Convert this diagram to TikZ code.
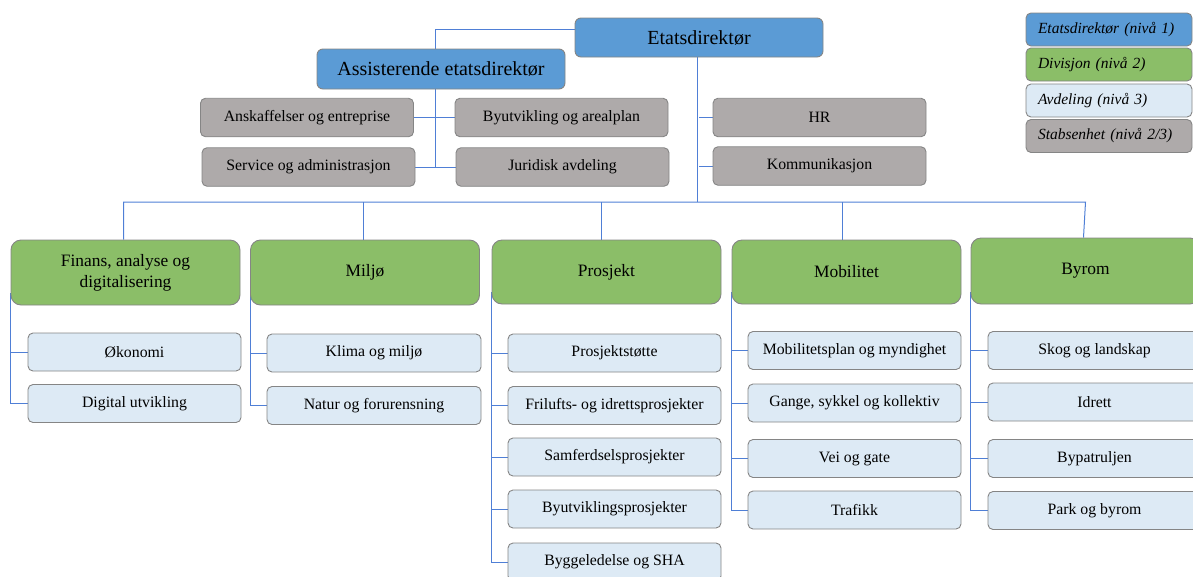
\documentclass[tikz,border=0pt]{standalone}
\usepackage{fontspec}
\setmainfont{Liberation Serif}
\usetikzlibrary{calc,backgrounds}

\definecolor{edblue}{HTML}{5B9BD5}
\definecolor{divgreen}{HTML}{8BBE68}
\definecolor{avdblue}{HTML}{DDEAF5}
\definecolor{stabgray}{HTML}{AEAAAA}
\definecolor{edge}{HTML}{858585}
\definecolor{linkblue}{HTML}{4F7FD6}

\tikzset{
  box/.style={draw=edge, line width=0.9pt, inner sep=0pt, align=center, text=black},
  lvlone/.style={box, fill=edblue, rounded corners=6pt, minimum width=248pt, minimum height=39pt,
                 font=\fontsize{20}{22}\selectfont},
  stab/.style={box, fill=stabgray, rounded corners=5pt, minimum width=213pt, minimum height=38.5pt,
               font=\fontsize{15.8}{18}\selectfont},
  divbox/.style={box, fill=divgreen, rounded corners=10pt, minimum width=229pt, minimum height=65pt,
                 font=\fontsize{17.4}{21}\selectfont},
  avd/.style={box, fill=avdblue, rounded corners=5pt, minimum width=213pt, minimum height=38pt,
              font=\fontsize{15.8}{18}\selectfont},
  legbox/.style={box, rounded corners=5pt, minimum width=166pt, minimum height=33pt,
                 text width=142pt, align=left, font=\fontsize{15.5}{18}\selectfont\itshape},
  conn/.style={draw=linkblue, line width=1pt},
}

\begin{document}
\begin{tikzpicture}[x=1pt, y=-1pt]
  \useasboundingbox (0,0) rectangle (1193,576);
  \clip (0,0) rectangle (1193,576);

  % management
  \node[lvlone] (ed)  at (699,37.5) {Etatsdirektør};
  \node[lvlone, minimum height=40pt] (ass) at (441,69) {Assisterende etatsdirektør};

  % staff units
  \node[stab] (ansk) at (307,117.5)   {Anskaffelser og entreprise};
  \node[stab] (byut) at (561.5,117.5) {Byutvikling og arealplan};
  \node[stab] (serv) at (308.5,167)   {Service og administrasjon};
  \node[stab] (jur)  at (562.5,167)   {Juridisk avdeling};
  \node[stab] (hr)   at (819.5,117.5) {HR};
  \node[stab] (komm) at (819.5,166)   {Kommunikasjon};

  % legend
  \node[legbox, fill=edblue]    (lg1) at (1109,29.5)  {Etatsdirektør (nivå 1)};
  \node[legbox, fill=divgreen]  (lg2) at (1109,64.5)  {Divisjon (nivå 2)};
  \node[legbox, fill=avdblue]   (lg3) at (1109,100.5) {Avdeling (nivå 3)};
  \node[legbox, fill=stabgray]  (lg4) at (1109,136)   {Stabsenhet (nivå 2/3)};

  % divisions
  \node[divbox] (fin) at (125.5,272.5) {Finans, analyse og\\digitalisering};
  \node[divbox] (mil) at (365,272.5)   {Miljø};
  \node[divbox, minimum height=64pt] (pro) at (606.5,272) {Prosjekt};
  \node[divbox, minimum height=64pt] (mob) at (846.5,272) {Mobilitet};
  \node[divbox, minimum height=66pt] (byr) at (1085.5,271) {Byrom};

  % departments
  \node[avd] (oko) at (134.5,352)   {Økonomi};
  \node[avd] (dig) at (134.5,403.5) {Digital utvikling};

  \node[avd, minimum width=214pt] (kli) at (374,353)   {Klima og miljø};
  \node[avd, minimum width=214pt] (nat) at (374,405.5) {Natur og forurensning};

  \node[avd] (pst)  at (614.5,353)   {Prosjektstøtte};
  \node[avd] (fri)  at (614.5,405.5) {Frilufts- og idrettsprosjekter};
  \node[avd] (sam)  at (614.5,457)   {Samferdselsprosjekter};
  \node[avd] (bypr) at (614.5,509)   {Byutviklingsprosjekter};
  \node[avd] (bygg) at (614.5,562)   {Byggeledelse og SHA};

  \node[avd] (mpl) at (854.5,350.5) {Mobilitetsplan og myndighet};
  \node[avd] (gan) at (854.5,403)   {Gange, sykkel og kollektiv};
  \node[avd] (vei) at (854.5,458.5) {Vei og gate};
  \node[avd] (tra) at (854.5,510)   {Trafikk};

  \node[avd] (sko) at (1094.5,350.5) {Skog og landskap};
  \node[avd] (idr) at (1094.5,402)   {Idrett};
  \node[avd] (bpt) at (1094.5,458.5) {Bypatruljen};
  \node[avd] (par) at (1094.5,510.5) {Park og byrom};

  \coordinate (bus) at (0,202);

  \begin{scope}[on background layer]
    % director to assistant director and staff units
    \draw[conn] ([yshift=8.5pt]ed.west) -| ([xshift=-6pt]ass.north);
    \draw[conn] ([xshift=-6pt]ass.south) -- ([xshift=-6pt]ass.south |- serv.east);
    \draw[conn] (ansk.east) -- (byut.west);
    \draw[conn] (serv.east) -- (jur.west);
    \draw[conn] ([xshift=-2pt]ed.south) -- ([xshift=-2pt]ed.south |- bus);
    \draw[conn] (hr.west) -- (hr.west -| ed.south);
    \draw[conn] (komm.west) -- (komm.west -| ed.south);

    % bus to divisions
    \draw[conn] ([xshift=-2pt]fin.north) |- (bus -| byr.north) -- ([xshift=-2pt]byr.north);
    \draw[conn] ([xshift=-2pt]mil.north) -- ([xshift=-2pt]mil.north |- bus);
    \draw[conn] ([xshift=-5pt]pro.north) -- ([xshift=-5pt]pro.north |- bus);
    \draw[conn] ([xshift=-4pt]mob.north) -- ([xshift=-4pt]mob.north |- bus);

    % divisions to departments
    \draw[conn] ([yshift=12pt]fin.south west) |- (dig.west);
    \draw[conn] (oko.west) -- (oko.west -| fin.west);

    \draw[conn] ([yshift=12pt]mil.south west) |- (nat.west);
    \draw[conn] (kli.west) -- (kli.west -| mil.west);

    \draw[conn] ([yshift=12pt]pro.south west) |- (bygg.west);
    \foreach \n in {pst,fri,sam,bypr}
      \draw[conn] (\n.west) -- (\n.west -| pro.west);

    \draw[conn] ([yshift=12pt]mob.south west) |- (tra.west);
    \foreach \n in {mpl,gan,vei}
      \draw[conn] (\n.west) -- (\n.west -| mob.west);

    \draw[conn] ([yshift=12pt]byr.south west) |- (par.west);
    \foreach \n in {sko,idr,bpt}
      \draw[conn] (\n.west) -- (\n.west -| byr.west);
  \end{scope}
\end{tikzpicture}
\end{document}
